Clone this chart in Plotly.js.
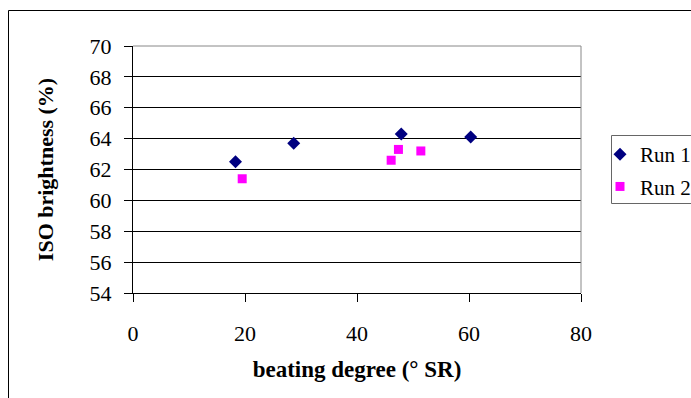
<!DOCTYPE html>
<html>
<head>
<meta charset="utf-8">
<script src="https://cdn.plot.ly/plotly-3.0.1.min.js"></script>
<style>
html,body{margin:0;padding:0;background:#fff;overflow:hidden;}
#wrap{width:691px;height:398px;overflow:hidden;position:relative;}
#chart{width:720px;height:398px;}
</style>
</head>
<body>
<div id="wrap"><div id="chart"></div></div>
<script>
// Data
const run1X = [18.3, 28.7, 47.9, 60.3];
const run1Y = [62.5, 63.7, 64.3, 64.1];
const run2X = [19.5, 46.1, 47.4, 51.4];
const run2Y = [61.4, 62.6, 63.3, 63.2];
const seriesNames = ['Run 1', 'Run 2'];
const xTicks = [0, 20, 40, 60, 80];
const yTicks = [54, 56, 58, 60, 62, 64, 66, 68, 70];

const serif = 'Liberation Serif';

const traces = [
  {x: run1X, y: run1Y, name: seriesNames[0], legendgroup: 'g1', type: 'scatter', mode: 'markers',
   marker: {symbol: 'diamond', color: '#000080', size: 10}},
  {x: run2X, y: run2Y, name: seriesNames[1], legendgroup: 'g2', type: 'scatter', mode: 'markers',
   marker: {symbol: 'square', color: '#FF00FF', size: 9}}
];

const W = 720, H = 398, L = 133, R = 720 - 581, T = 46, B = 398 - 293;
const pw = W - L - R, ph = H - T - B;
const px = v => (v - L) / pw;
const py = v => (H - B - v) / ph;

const layout = {
  width: W, height: H,
  margin: {l: L, r: R, t: T, b: B},
  paper_bgcolor: '#fff', plot_bgcolor: '#fff',
  font: {family: serif, color: '#000', size: 21},
  showlegend: true,
  legend: {x: px(600), y: py(134), xanchor: 'left', yanchor: 'top',
    borderwidth: 0, bgcolor: 'rgba(0,0,0,0)', traceorder: 'grouped',
    font: {family: serif, size: 21, color: '#000'}, itemwidth: 30, tracegroupgap: 2},
  xaxis: {range: [0, 80], tickvals: xTicks, ticktext: xTicks.map(String),
    showgrid: false, zeroline: false, showline: true, linecolor: '#000', linewidth: 1,
    ticks: 'outside', ticklen: 8, tickcolor: '#000', ticklabelstandoff: 13,
    tickfont: {family: serif, size: 22},
    title: {text: 'beating degree (° SR)', font: {family: serif, size: 23, weight: 'bold'}, standoff: 15}},
  yaxis: {range: [54, 70], tickvals: yTicks, ticktext: yTicks.map(String),
    showgrid: true, gridcolor: '#000', gridwidth: 1, zeroline: false,
    showline: true, linecolor: '#000', linewidth: 1,
    ticks: 'outside', ticklen: 8, tickcolor: '#000', ticklabelstandoff: 8,
    tickfont: {family: serif, size: 22},
    title: {text: 'ISO brightness (%)', font: {family: serif, size: 22, weight: 'bold'}, standoff: 29}},
  shapes: [
    {type: 'line', xref: 'paper', yref: 'paper', x0: 0, x1: 1, y0: 1, y1: 1,
     line: {color: '#888', width: 1}},
    {type: 'line', xref: 'paper', yref: 'paper', x0: 1, x1: 1, y0: 0, y1: 1,
     line: {color: '#888', width: 1}},
    {type: 'rect', xref: 'paper', yref: 'paper',
     x0: px(8.5), x1: px(715), y0: py(420), y1: py(10.5),
     line: {color: '#000', width: 1}, fillcolor: 'rgba(0,0,0,0)'},
    {type: 'rect', xref: 'paper', yref: 'paper',
     x0: px(611.5), x1: px(710), y0: py(203.5), y1: py(135.5),
     line: {color: '#666', width: 1}, fillcolor: 'rgba(0,0,0,0)'}
  ]
};

Plotly.newPlot('chart', traces, layout, {displayModeBar: false, staticPlot: true});
</script>
</body>
</html>
